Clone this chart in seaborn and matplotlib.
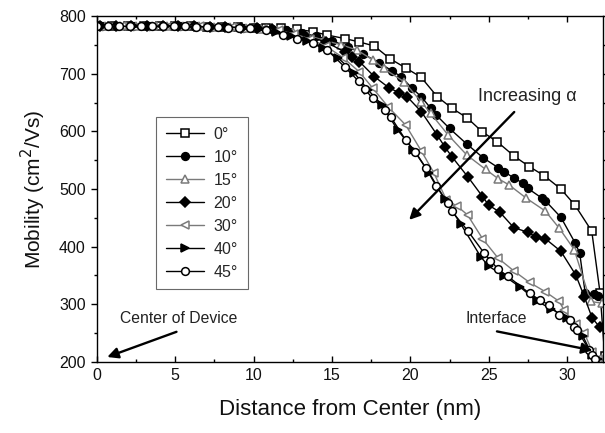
import numpy as np
import pandas as pd
import matplotlib
matplotlib.use("Agg")
import matplotlib.pyplot as plt
import seaborn as sns

# ---------------- data ----------------
x_0 = [0, 1, 2, 3, 4, 5, 6, 7, 8, 9, 10, 10.8, 11.76, 12.8, 13.76, 14.7, 15.8, 16.75, 17.7,
       18.7, 19.7, 20.68, 21.72, 22.66, 23.64, 24.59, 25.54, 26.62, 27.58, 28.54, 29.6, 30.5,
       31.57, 32.1, 32.4]
y_0 = [782, 782, 782, 782, 782, 782, 782, 781, 781, 781, 780, 780, 779, 777, 773, 767, 761,
       755, 748, 726, 710, 694, 660, 640, 623, 599, 582, 557, 539, 523, 500, 472, 427, 320, 210]

x_10 = [0.3, 1.3, 2.3, 3.3, 4.3, 5.3, 6.3, 7.3, 8.3, 9.3, 10.3, 11.2, 12.1, 13.0, 14.0, 15.0,
        16.0, 17.0, 18.0, 18.83, 19.4, 20.1, 20.7, 21.3, 21.66, 22.5, 23.6, 24.65, 25.6, 26.0,
        26.6, 27.2, 27.5, 28.4, 28.6, 29.6, 30.5, 30.8, 31.15, 31.7, 32.0, 32.4]
y_10 = [782, 782, 782, 782, 782, 782, 782, 781, 781, 780, 779, 777, 775, 771, 765, 757,
        747, 734, 719, 705, 695, 675, 660, 640, 628, 605, 578, 554, 537, 530,
        519, 510, 501, 484, 480, 451, 407, 389, 320, 318, 315, 300]

x_15 = [0.5, 1.5, 2.5, 3.5, 4.5, 5.5, 6.5, 7.5, 8.5, 9.5, 10.5, 11.5, 12.5, 13.5, 14.5, 15.6,
        16.6, 17.6, 18.3, 19.6, 20.7, 21.3, 22.4, 23.6, 24.8, 25.6, 26.3, 27.4, 28.6, 29.5,
        30.45, 31.5, 32.2]
y_15 = [782, 782, 782, 782, 782, 782, 782, 781, 781, 780, 778, 776, 772, 766, 758, 750,
        741, 724, 709, 686, 651, 631, 594, 559, 534, 518, 507, 484, 462, 432,
        395, 305, 302]

x_20 = [0.2, 1.2, 2.2, 3.2, 4.2, 5.2, 6.2, 7.2, 8.2, 9.2, 10.2, 11.2, 12.2, 13.2, 14.6, 15.8,
        16.3, 16.75, 17.7, 18.66, 19.3, 19.8, 20.7, 21.7, 22.2, 22.65, 23.7, 24.6, 25.0, 25.7,
        26.6, 27.5, 28.0, 28.6, 29.6, 30.55, 31.1, 31.6, 32.1]
y_20 = [782, 782, 782, 782, 782, 782, 782, 781, 781, 780, 779, 777, 773, 767, 755, 738,
        729, 721, 695, 675, 667, 660, 634, 594, 573, 556, 520, 487, 472, 460,
        433, 425, 417, 414, 392, 351, 313, 276, 260]

x_30 = [0.6, 1.6, 2.6, 3.6, 4.6, 5.6, 6.6, 7.6, 8.6, 9.6, 10.6, 11.6, 12.6, 13.6, 14.6, 15.7,
        16.75, 17.6, 18.6, 19.7, 20.7, 21.5, 22.3, 23.0, 23.65, 24.6, 25.6, 26.6, 27.6, 28.6,
        29.5, 29.8, 30.55, 31.1, 31.6, 32.0]
y_30 = [782, 782, 782, 782, 782, 782, 782, 781, 781, 780, 778, 775, 769, 760, 748, 728,
        703, 675, 642, 611, 566, 528, 481, 470, 455, 414, 380, 358, 338, 322,
        305, 290, 266, 250, 218, 205]

x_40 = [0.4, 1.4, 2.4, 3.4, 4.4, 5.4, 6.4, 7.4, 8.4, 9.4, 10.4, 11.4, 12.4, 13.4, 14.4, 15.4,
        16.4, 17.3, 18.2, 19.2, 20.2, 21.2, 22.2, 23.2, 24.5, 25.0, 26.0, 27.0, 28.1, 29.0,
        30.0, 31.0, 31.6, 32.0]
y_40 = [782, 782, 782, 782, 782, 782, 782, 781, 781, 780, 778, 773, 766, 756, 745, 727,
        702, 672, 645, 602, 568, 528, 482, 440, 382, 366, 349, 330, 305, 292,
        276, 245, 212, 205]

x_45 = [0, 0.7, 1.4, 2.1, 2.8, 3.5, 4.2, 4.9, 5.6, 6.3, 7.0, 7.7, 8.4, 9.1, 9.8, 10.8, 11.9,
        12.8, 13.8, 14.7, 15.8, 16.7, 17.1, 17.6, 18.4, 18.75, 19.7, 20.3, 21.0, 21.65, 22.4,
        22.66, 23.65, 24.7, 25.1, 25.6, 26.2, 27.6, 28.3, 28.85, 29.5, 30.2, 30.45, 30.66,
        31.4, 31.6, 31.8]
y_45 = [782, 782, 782, 782, 782, 782, 782, 782, 782, 781, 781, 781, 780, 780, 779, 776, 767,
        761, 753, 741, 712, 687, 673, 657, 637, 625, 585, 565, 536, 505, 475,
        461, 428, 389, 376, 361, 349, 319, 307, 299, 282, 273, 261, 255,
        221, 212, 205]

labels = ["0°", "10°", "15°", "20°", "30°", "40°", "45°"]
xs = [x_0, x_10, x_15, x_20, x_30, x_40, x_45]
ys = [y_0, y_10, y_15, y_20, y_30, y_40, y_45]

# ---------------- styles ----------------
GRAY = "#7a7a7a"
styles = {
    "0°":  dict(marker="s", mfc="white", mec="black", color="black"),
    "10°": dict(marker="o", mfc="black", mec="black", color="black"),
    "15°": dict(marker="^", mfc="white", mec=GRAY, color=GRAY),
    "20°": dict(marker="D", mfc="black", mec="black", color="black"),
    "30°": dict(marker="<", mfc="white", mec=GRAY, color=GRAY),
    "40°": dict(marker=">", mfc="black", mec="black", color="black"),
    "45°": dict(marker="o", mfc="white", mec="black", color="black"),
}
msize = {"s": 5.2, "o": 5.6, "^": 6.2, "D": 4.8, "<": 6.2, ">": 6.0}

sns.set_theme(style="ticks")
plt.rcParams["font.family"] = ["Liberation Sans", "DejaVu Sans"]

fig = plt.figure(figsize=(6.05, 4.33), dpi=100)
ax = fig.add_axes([0.160, 0.164, 0.837, 0.799])

for lab, x, y in zip(labels, xs, ys):
    st = styles[lab]
    df = pd.DataFrame({"x": x, "y": y})
    sns.lineplot(data=df, x="x", y="y", ax=ax, sort=False, estimator=None,
                 color=st["color"], lw=1.0, marker=st["marker"],
                 markersize=msize[st["marker"]], markerfacecolor=st["mfc"],
                 markeredgecolor=st["mec"], markeredgewidth=1.1, label=lab)

ax.set_xlim(0, 32.3)
ax.set_ylim(200, 800)
ax.set_xticks([0, 5, 10, 15, 20, 25, 30])
ax.set_xticks(np.arange(2.5, 32.3, 5), minor=True)
ax.set_yticks(np.arange(200, 801, 100))
ax.set_yticks(np.arange(250, 800, 100), minor=True)
ax.tick_params(axis="both", which="major", labelsize=11.5, length=4, width=1, color="black",
               direction="in", top=True, right=True, pad=4, labelcolor="#111111")
ax.tick_params(axis="both", which="minor", length=2.5, width=1, color="black",
               direction="in", top=True, right=True)
ax.tick_params(axis="y", which="both", direction="out", left=True)
for s in ax.spines.values():
    s.set_color("black")
    s.set_linewidth(1.0)

ax.set_xlabel("Distance from Center (nm)", fontsize=16, labelpad=12, color="#111111")
ax.set_ylabel("Mobility (cm$^2$/Vs)", fontsize=15, labelpad=8, color="#111111")

leg = ax.legend(loc="upper left", bbox_to_anchor=(0.117, 0.708), borderaxespad=0,
                frameon=True, fancybox=False, edgecolor="#444444", fontsize=11.5,
                handlelength=2.4, labelspacing=0.5, borderpad=0.6, handletextpad=0.6)
leg.get_frame().set_linewidth(0.8)

# annotations
arrow = dict(arrowstyle="-|>", color="black", lw=1.7, mutation_scale=16)
ax.annotate("", xy=(19.8, 443), xytext=(26.75, 637), arrowprops=arrow)
ax.text(27.45, 660, "Increasing α", fontsize=13, ha="center", va="center", color="#222222")
ax.text(5.2, 276, "Center of Device", fontsize=11.3, ha="center", va="center", color="#222222")
ax.annotate("", xy=(0.5, 207), xytext=(5.25, 254), arrowprops=arrow)
ax.text(25.5, 276, "Interface", fontsize=11.3, ha="center", va="center", color="#222222")
ax.annotate("", xy=(31.8, 219), xytext=(25.35, 254), arrowprops=arrow)

fig.savefig("out.png", dpi=100)
